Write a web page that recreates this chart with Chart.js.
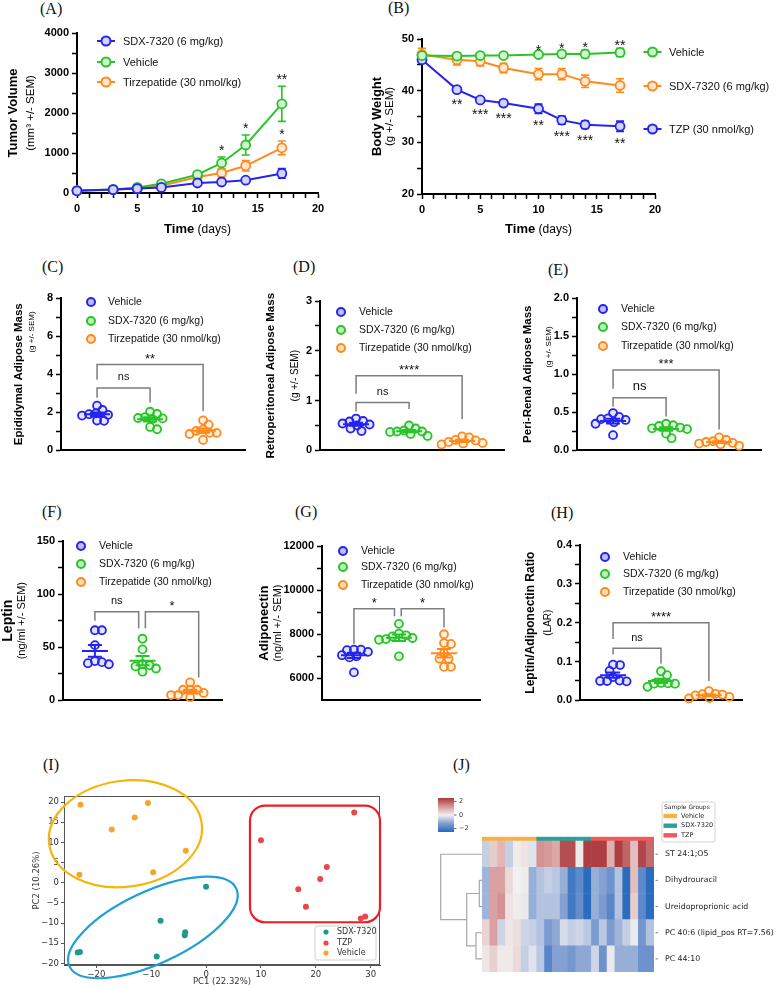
<!DOCTYPE html>
<html>
<head>
<meta charset="utf-8">
<title>SDX-7320 / tirzepatide panels</title>
<script src="https://cdn.jsdelivr.net/npm/chart.js@4.4.1/dist/chart.umd.min.js"></script>
<style>
  html, body { margin: 0; padding: 0; background: #fff; }
  body { position: relative; width: 776px; height: 989px; overflow: hidden; }
  canvas { position: absolute; }
  .tag { position: absolute; font-family: 'Liberation Serif', 'Times New Roman', serif; font-size: 16px; line-height: 16px; color: #111; }
</style>
</head>
<body>
<div class="tag" style="left:40px;top:1px">(A)</div>
<div class="tag" style="left:388px;top:0px">(B)</div>
<div class="tag" style="left:42px;top:259px">(C)</div>
<div class="tag" style="left:293px;top:259px">(D)</div>
<div class="tag" style="left:548px;top:262px">(E)</div>
<div class="tag" style="left:42px;top:504px">(F)</div>
<div class="tag" style="left:295px;top:504px">(G)</div>
<div class="tag" style="left:551px;top:505px">(H)</div>
<div class="tag" style="left:43px;top:757px">(I)</div>
<div class="tag" style="left:453px;top:757px">(J)</div>
<script>
// ---- (A) tumour volume, mm3 ----
const days = [0, 3, 5, 7, 10, 12, 14, 17];
const tumorSdx = [55, 85, 110, 140, 250, 275, 320, 490];
const tumorSdxErr = [10, 15, 20, 25, 35, 40, 50, 120];
const tumorVehicle = [60, 90, 140, 230, 460, 750, 1200, 2230];
const tumorVehicleErr = [10, 15, 25, 40, 60, 150, 250, 440];
const tumorTzp = [60, 80, 110, 180, 400, 500, 680, 1130];
const tumorTzpErr = [10, 15, 20, 30, 50, 100, 130, 170];
const tumorStarsVehicle = ['', '', '', '', '', '*', '*', '**'];
const tumorStarsTzp = ['', '', '', '', '', '', '', '*'];

// ---- (B) body weight, g ----
const weightVehicle = [46.8, 46.7, 46.8, 46.8, 47.0, 47.1, 47.1, 47.4];
const weightVehicleErr = [0.3, 0.6, 0.3, 0.3, 0.3, 0.6, 0.7, 0.8];
const weightSdx = [47.0, 46.0, 45.7, 44.4, 43.2, 43.2, 41.8, 41.0];
const weightSdxErr = [1.2, 1.0, 0.9, 0.9, 1.1, 1.1, 1.2, 1.3];
const weightTzp = [46.0, 40.2, 38.2, 37.6, 36.5, 34.3, 33.4, 33.1];
const weightTzpErr = [0.4, 0.4, 0.4, 0.5, 0.9, 0.8, 0.7, 1.0];
const weightStarsVehicle = ['', '', '', '', '*', '*', '*', '**'];
const weightStarsTzp = ['', '**', '***', '***', '**', '***', '***', '**'];

// ---- (C)-(H) individual animals ----
const groupNames = ['Vehicle', 'SDX-7320 (6 mg/kg)', 'Tirzepatide (30 nmol/kg)'];
const epiVehicle = [2.35, 1.95, 1.87, 2.12, 1.83, 1.55, 1.57, 1.90];
const epiSdx = [1.91, 1.70, 1.68, 2.03, 1.75, 1.11, 1.23, 1.65];
const epiTzp = [1.35, 1.58, 0.86, 0.92, 1.10, 0.92, 0.55, 1.02];
const retroVehicle = [0.54, 0.59, 0.58, 0.64, 0.39, 0.44, 0.50, 0.52];
const retroSdx = [0.33, 0.38, 0.50, 0.37, 0.40, 0.44, 0.29, 0.38];
const retroTzp = [0.26, 0.28, 0.20, 0.21, 0.17, 0.14, 0.15, 0.12];
const periVehicle = [0.42, 0.49, 0.44, 0.41, 0.37, 0.35, 0.20, 0.40];
const periSdx = [0.32, 0.33, 0.29, 0.30, 0.35, 0.16, 0.22, 0.28];
const periTzp = [0.17, 0.12, 0.11, 0.14, 0.09, 0.08, 0.06, 0.10];
const leptinVehicle = [66, 66, 52, 37, 35, 36, 34];
const leptinSdx = [58, 48, 33, 32, 30, 34, 27];
const leptinTzp = [17, 10, 10, 7, 10, 3, 5, 5];
const adipoVehicle = [7300, 7300, 7280, 7200, 7050, 7000, 6950, 6270];
const adipoSdx = [8470, 7950, 7900, 8030, 7750, 7780, 7830, 7000];
const adipoTzp = [8000, 7600, 7560, 7140, 6890, 6890, 6520, 6520];
const larVehicle = [0.092, 0.091, 0.076, 0.060, 0.050, 0.051, 0.050, 0.049];
const larSdx = [0.075, 0.065, 0.045, 0.043, 0.044, 0.043, 0.035];
const larTzp = [0.024, 0.017, 0.015, 0.013, 0.016, 0.006, 0.005, 0.009];

// significance brackets: group a -> group b, heights in data units
const bracketsC = [
  { a: 0, b: 1, top: 3.28, aBase: 2.77, bBase: 2.51, text: 'ns' },
  { a: 0, b: 2, top: 4.51, aBase: 3.71, bBase: 2.05, text: '**' },
];
const bracketsD = [
  { a: 0, b: 1, top: 0.96, aBase: 0.78, bBase: 0.83, text: 'ns' },
  { a: 0, b: 2, top: 1.50, aBase: 1.14, bBase: 0.63, text: '****' },
];
const bracketsE = [
  { a: 0, b: 1, top: 0.692, aBase: 0.573, bBase: 0.444, text: 'ns' },
  { a: 0, b: 2, top: 1.056, aBase: 0.81, bBase: 0.274, text: '***' },
];
const bracketsF = [
  { a: 0, b: 0.92, top: 83.5, aBase: 75, bBase: 68, text: 'ns' },
  { a: 1.06, b: 2.18, top: 83.5, aBase: 68, bBase: 21.5, text: '*' },
];
const bracketsG = [
  { a: 0, b: 0.9, top: 9150, aBase: 7560, bBase: 8810, text: '*' },
  { a: 1.05, b: 2, top: 9150, aBase: 8810, bBase: 8300, text: '*' },
];
const bracketsH = [
  { a: 0, b: 1, top: 0.134, aBase: 0.118, bBase: 0.095, text: 'ns' },
  { a: 0, b: 2, top: 0.20, aBase: 0.158, bBase: 0.05, text: '****' },
];

// ---- (I) PCA scores ----
const pcaSdxX = [0, -8.3, -3.8, -3.9, -9.0, -23.0, -23.4];
const pcaSdxY = [-1.0, -9.4, -12.3, -13.0, -18.3, -17.2, -17.3];
const pcaTzpX = [10.0, 27.0, 22.0, 20.8, 16.8, 18.2, 28.2, 29.0];
const pcaTzpY = [10.5, 17.4, 3.9, 0.9, -1.65, -5.95, -8.9, -8.35];
const pcaVehX = [-22.9, -10.6, -13.0, -17.2, -3.7, -9.65, -23.1];
const pcaVehY = [19.3, 19.75, 16.2, 13.2, 7.9, 2.6, 2.0];

// ---- (J) clustered heatmap, z-scores ----
const sampleIds = ['V1', 'V2', 'V3', 'V4', 'V5', 'V6', 'V7', 'S1', 'S2', 'S3', 'S4', 'S5', 'S6', 'S7',
  'T1', 'T2', 'T3', 'T4', 'T5', 'T6', 'T7', 'T8'];
const sampleGroup = ['Vehicle', 'Vehicle', 'Vehicle', 'Vehicle', 'Vehicle', 'Vehicle', 'Vehicle',
  'SDX-7320', 'SDX-7320', 'SDX-7320', 'SDX-7320', 'SDX-7320', 'SDX-7320', 'SDX-7320',
  'TZP', 'TZP', 'TZP', 'TZP', 'TZP', 'TZP', 'TZP', 'TZP'];
const metabolites = ['ST 24:1;O5', 'Dihydrouracil', 'Ureidoproprionic acid', 'PC 40:6 (lipid_pos RT=7.56)', 'PC 44:10'];
const zST = [-0.5, 0.5, 0.8, -0.5, 0.05, 0.2, -0.2, 1.3, 1.2, 1.0, 2.2, 2.2, 0.1, 2.4, 2.4, 2.4, 0.9, 2.4, 1.9, 0.7, 2.3, 1.8];
const zDihydro = [-0.9, 1.1, 1.1, 0.3, 0.0, 0.05, -1.0, -0.7, -0.5, -0.6, -1.0, -2.1, -1.7, -2.4, -1.0, -1.2, -1.5, -0.7, -2.4, 0.7, -1.7, -2.4];
const zUreido = [-0.9, 1.1, 1.3, 0.2, 0.05, -0.1, -1.0, -0.7, -0.7, -0.7, -1.2, -2.1, -1.6, -2.4, -1.0, -1.3, -1.8, -0.7, -2.4, 0.5, -1.7, -2.4];
const zPC406 = [0.4, 1.1, -0.4, 0.15, 0.25, -0.4, -0.5, -0.7, -1.3, -1.1, -0.3, -0.5, -0.4, -0.6, -1.3, -0.6, -1.3, -0.9, -0.5, -0.1, -1.4, -0.7];
const zPC4410 = [0.15, 0.45, 0.1, 0.1, 0.3, -0.5, -0.2, -0.6, -1.8, -1.2, -1.2, -1.4, -1.1, -1.1, -0.4, -1.5, -0.1, -1.0, -1.0, -1.0, -1.5, -1.5];
// row dendrogram links [a, b, height]; ids 5.. are merged clusters
const dendroLinks = [[1, 2, 0.065], [3, 4, 0.145], [5, 6, 0.37], [0, 7, 1.0]];

// ---------- style ----------
const ARIAL = "'Liberation Sans', Arial, Helvetica, sans-serif";
const DJ = "'DejaVu Sans', Verdana, sans-serif";
const BLUE = '#2424ee', GREEN = '#28c428', ORANGE = '#ff8a1c';
const groupColors = [BLUE, GREEN, ORANGE];
const TEAL = '#1f9a86', RED = '#e8474b', GOLD = '#f5a62a';
const groupBand = { 'Vehicle': '#f7b244', 'SDX-7320': '#2aa198', 'TZP': '#ef5b5b' };
const zLimit = 2.5;
const bandH = 0.17;

Chart.defaults.font.family = ARIAL;
Chart.defaults.color = '#000';

function rgb(hex) { const n = parseInt(hex.slice(1), 16); return [n >> 16, (n >> 8) & 255, n & 255]; }
function tint(hex, a) { return `rgba(${rgb(hex).join(',')},${a})`; }
function mixWhite(hex, w) { return `rgb(${rgb(hex).map(v => Math.round(v + (255 - v) * w)).join(',')})`; }
const onStep = (v, step) => Math.abs(v / step - Math.round(v / step)) < 1e-6;
// scale boxes get a fixed size so the plot area lands where the figure has it
const fixedFit = size => s => { if (s.isHorizontal()) s.height = size; else s.width = size; };
const frame = (T, R) => ({ autoPadding: false, padding: { left: 0, top: T, right: R, bottom: 0 } });

const vlagStops = [[-1, [36, 104, 189]], [-0.5, [128, 157, 209]], [0, [242, 240, 240]], [0.5, [214, 150, 150]], [1, [169, 55, 59]]];
function vlag(z) {
  const t = Math.max(-1, Math.min(1, z / zLimit));
  for (let i = 1; i < vlagStops.length; i++) {
    const [t0, c0] = vlagStops[i - 1], [t1, c1] = vlagStops[i];
    if (t <= t1) {
      const f = (t - t0) / (t1 - t0);
      return `rgb(${c0.map((c, k) => Math.round(c + (c1[k] - c) * f)).join(',')})`;
    }
  }
  return 'rgb(169,55,59)';
}

function makeChart(box, config) {
  const [left, top, w, h] = box;
  const c = document.createElement('canvas');
  c.width = w; c.height = h;
  c.style.cssText = `left:${left}px;top:${top}px;width:${w}px;height:${h}px`;
  document.body.appendChild(c);
  config.options = Object.assign({ responsive: false, animation: false, devicePixelRatio: 1, events: [] }, config.options);
  config.options.plugins = Object.assign({ legend: { display: false }, tooltip: { enabled: false } }, config.options.plugins);
  return new Chart(c, config);
}

// GraphPad-like axis: thick black line, outward ticks, labels on major steps only
function gpAxis(pos, min, max, minor, major, decimals, size, from) {
  return {
    type: 'linear', position: pos, min, max,
    afterFit: fixedFit(size),
    afterBuildTicks: s => { s.ticks = s.ticks.filter(t => onStep(t.value, minor) && (from === undefined || t.value >= from)); },
    border: { display: true, color: '#000', width: 2 },
    grid: { drawOnChartArea: false, drawTicks: true, tickLength: 5, tickWidth: 1.5, tickColor: '#000' },
    ticks: {
      stepSize: minor, autoSkip: false, includeBounds: false, maxRotation: 0, padding: pos === 'bottom' ? 4 : 3, color: '#000',
      font: { size: 11, weight: 'bold' },
      callback: v => (onStep(v, major) ? Number(v).toFixed(decimals) : ''),
    },
  };
}
function flatX(min, max, size) {
  return { type: 'linear', position: 'bottom', min, max, afterFit: fixedFit(size),
    border: { display: true, color: '#000', width: 2 }, grid: { display: false }, ticks: { display: false } };
}
function mplAxis(pos, min, max, step, size) {
  return {
    type: 'linear', position: pos, min, max, afterFit: fixedFit(size),
    afterBuildTicks: s => { s.ticks = s.ticks.filter(t => onStep(t.value, step)); },
    border: { display: true, color: '#555', width: 1 },
    grid: { drawOnChartArea: false, drawTicks: true, tickLength: 3, tickWidth: 1, tickColor: '#555' },
    ticks: { stepSize: step, autoSkip: false, includeBounds: false, maxRotation: 0, padding: 2, color: '#333', font: { family: DJ, size: 8.5 },
      callback: v => (v < 0 ? '\u2212' + Math.abs(v) : String(v)) },
  };
}

// ---------- plugins ----------
const errorBars = {
  id: 'errorBars',
  beforeDatasetsDraw(chart) {
    const { ctx } = chart, ys = chart.scales.y;
    chart.data.datasets.forEach((ds, di) => {
      const meta = chart.getDatasetMeta(di);
      ctx.save();
      ctx.strokeStyle = ds.borderColor; ctx.lineWidth = 1.6;
      ctx.beginPath();
      meta.data.forEach((pt, i) => {
        const v = ds.data[i].y, e = ds.errors[i];
        const t = ys.getPixelForValue(v + e), b = ys.getPixelForValue(v - e);
        ctx.moveTo(pt.x, t); ctx.lineTo(pt.x, b);
        ctx.moveTo(pt.x - 4, t); ctx.lineTo(pt.x + 4, t);
        ctx.moveTo(pt.x - 4, b); ctx.lineTo(pt.x + 4, b);
      });
      ctx.stroke();
      ctx.restore();
    });
  },
};

const starMarks = {
  id: 'starMarks',
  afterDatasetsDraw(chart, args, o) {
    const { ctx } = chart, ys = chart.scales.y;
    ctx.save();
    ctx.font = `14px ${ARIAL}`; ctx.fillStyle = '#111'; ctx.textAlign = 'center'; ctx.textBaseline = 'alphabetic';
    chart.data.datasets.forEach((ds, di) => {
      if (!ds.stars) return;
      const meta = chart.getDatasetMeta(di);
      ds.stars.forEach((s, i) => {
        if (!s) return;
        const v = ds.data[i].y, e = ds.errors[i];
        const py = ds.starSide === 'below' ? ys.getPixelForValue(v - e) + o.below : ys.getPixelForValue(v + e) - o.above;
        ctx.fillText(s, meta.data[i].x, py);
      });
    });
    ctx.restore();
  },
};

const keyBox = {
  id: 'keyBox',
  afterDraw(chart, args, o) {
    const ctx = chart.ctx;
    ctx.save();
    ctx.font = `${o.size}px ${ARIAL}`;
    ctx.textBaseline = 'middle'; ctx.textAlign = 'left';
    chart.data.datasets.forEach((ds, i) => {
      const y = o.ys[i];
      ctx.strokeStyle = ds.borderColor; ctx.lineWidth = 2;
      if (o.line) { ctx.beginPath(); ctx.moveTo(o.x - 9, y); ctx.lineTo(o.x + 9, y); ctx.stroke(); }
      ctx.beginPath(); ctx.arc(o.x, y, o.r || 4, 0, Math.PI * 2);
      ctx.fillStyle = o.line ? ds.pointBackgroundColor : tint(ds.borderColor, 0.3);
      ctx.fill(); ctx.stroke();
      ctx.fillStyle = '#111';
      ctx.fillText(ds.label, o.tx, y + 0.5);
    });
    ctx.restore();
  },
};

const axisText = {
  id: 'axisText',
  afterDraw(chart, args, o) {
    const ctx = chart.ctx, a = chart.chartArea;
    ctx.save();
    ctx.fillStyle = '#000';
    (o.y || []).forEach(t => {
      ctx.save();
      ctx.translate(t.x, t.cy !== undefined ? t.cy : (a.top + a.bottom) / 2);
      ctx.rotate(-Math.PI / 2);
      ctx.font = `${t.bold ? 'bold ' : ''}${t.size}px ${ARIAL}`;
      ctx.textAlign = 'center'; ctx.textBaseline = 'middle';
      ctx.fillText(t.text, 0, 0);
      ctx.restore();
    });
    if (o.x) {
      const parts = o.x.parts.map(p => {
        ctx.font = `${p.bold ? 'bold ' : ''}${p.size}px ${ARIAL}`;
        return Object.assign({ w: ctx.measureText(p.text).width }, p);
      });
      let x0 = (a.left + a.right) / 2 - parts.reduce((s, p) => s + p.w, 0) / 2;
      ctx.textAlign = 'left'; ctx.textBaseline = 'alphabetic';
      parts.forEach(p => {
        ctx.font = `${p.bold ? 'bold ' : ''}${p.size}px ${ARIAL}`;
        ctx.fillText(p.text, x0, o.x.y);
        x0 += p.w;
      });
    }
    ctx.restore();
  },
};

// dot plot: swarm tied points sideways, mean +/- SEM, significance brackets
const dotPlot = {
  id: 'dotPlot',
  afterDatasetsUpdate(chart) {
    const dmin = 7;
    chart.data.datasets.forEach((ds, di) => {
      const pts = chart.getDatasetMeta(di).data.slice().sort((p, q) => p.y - q.y);
      const placed = [];
      pts.forEach(p => {
        const cx = p.x;
        let off = 0;
        for (let k = 0; k < 120; k++) {
          off = (k % 2 ? 1 : -1) * Math.ceil(k / 2) * 0.5;
          if (placed.every(q => (q.x - cx - off) ** 2 + (q.y - p.y) ** 2 >= dmin * dmin)) break;
        }
        p.x = cx + off;
        placed.push(p);
      });
    });
  },
  afterDatasetsDraw(chart) {
    const { ctx } = chart, xs = chart.scales.x, ys = chart.scales.y;
    chart.data.datasets.forEach(ds => {
      const vals = ds.data.map(p => p.y), n = vals.length;
      const m = vals.reduce((s, v) => s + v, 0) / n;
      const sem = Math.sqrt(vals.reduce((s, v) => s + (v - m) ** 2, 0) / (n - 1)) / Math.sqrt(n);
      const cx = xs.getPixelForValue(ds.data[0].x);
      const ym = ys.getPixelForValue(m), yt = ys.getPixelForValue(m + sem), yb = ys.getPixelForValue(m - sem);
      ctx.save();
      ctx.strokeStyle = ds.borderColor; ctx.lineWidth = 2;
      ctx.beginPath();
      ctx.moveTo(cx - 13, ym); ctx.lineTo(cx + 13, ym);
      ctx.moveTo(cx, yt); ctx.lineTo(cx, yb);
      ctx.moveTo(cx - 7, yt); ctx.lineTo(cx + 7, yt);
      ctx.moveTo(cx - 7, yb); ctx.lineTo(cx + 7, yb);
      ctx.stroke();
      ctx.restore();
    });
  },
  afterDraw(chart, args, o) {
    const { ctx } = chart, xs = chart.scales.x, ys = chart.scales.y;
    ctx.save();
    ctx.strokeStyle = '#7d7d7d'; ctx.lineWidth = 1.5; ctx.fillStyle = '#111';
    ctx.textAlign = 'center'; ctx.textBaseline = 'alphabetic';
    (o.brackets || []).forEach(b => {
      const xa = xs.getPixelForValue(b.a), xb = xs.getPixelForValue(b.b), yt = ys.getPixelForValue(b.top);
      ctx.beginPath();
      ctx.moveTo(xa, ys.getPixelForValue(b.aBase)); ctx.lineTo(xa, yt);
      ctx.lineTo(xb, yt); ctx.lineTo(xb, ys.getPixelForValue(b.bBase));
      ctx.stroke();
      const star = b.text.includes('*');
      ctx.font = `${star ? 13 : o.nsSize}px ${ARIAL}`;
      ctx.fillText(b.text, (xa + xb) / 2, yt - (star ? 1.5 : 7.5));
    });
    ctx.restore();
  },
};

const pcaDecor = {
  id: 'pcaDecor',
  afterDatasetsDraw(chart, args, o) {
    const { ctx, chartArea: a } = chart, xs = chart.scales.x, ys = chart.scales.y;
    ctx.save();
    ctx.strokeStyle = '#555'; ctx.lineWidth = 1;
    ctx.strokeRect(a.left + 0.5, a.top + 0.5, a.right - a.left - 1, a.bottom - a.top - 1);
    ctx.lineWidth = 2.2;
    o.ellipses.forEach(e => {
      ctx.strokeStyle = e.color;
      ctx.beginPath();
      ctx.ellipse(xs.getPixelForValue(e.cx), ys.getPixelForValue(e.cy), e.rx, e.ry, e.rot * Math.PI / 180, 0, Math.PI * 2);
      ctx.stroke();
    });
    o.boxes.forEach(b => {
      const x0 = xs.getPixelForValue(b.x0), x1 = xs.getPixelForValue(b.x1);
      const y0 = ys.getPixelForValue(b.y0), y1 = ys.getPixelForValue(b.y1);
      ctx.strokeStyle = b.color;
      ctx.beginPath(); ctx.roundRect(x0, y0, x1 - x0, y1 - y0, b.r); ctx.stroke();
    });
    // legend
    const L = o.legend;
    ctx.fillStyle = 'rgba(255,255,255,0.9)'; ctx.strokeStyle = '#d0d0d0'; ctx.lineWidth = 1;
    ctx.beginPath(); ctx.roundRect(L.x, L.y, L.w, L.h, 2); ctx.fill(); ctx.stroke();
    ctx.font = `8px ${DJ}`; ctx.textBaseline = 'middle'; ctx.textAlign = 'left';
    chart.data.datasets.forEach((ds, i) => {
      const y = L.ys[i];
      ctx.fillStyle = ds.backgroundColor;
      ctx.beginPath(); ctx.arc(L.mx, y, 2.6, 0, Math.PI * 2); ctx.fill();
      ctx.fillStyle = '#333'; ctx.fillText(ds.label, L.tx, y);
    });
    // axis titles
    ctx.fillStyle = '#333'; ctx.font = `8.5px ${DJ}`; ctx.textAlign = 'center';
    ctx.fillText(o.xTitle, (a.left + a.right) / 2, o.xTitleY);
    ctx.save(); ctx.translate(o.yTitleX, (a.top + a.bottom) / 2); ctx.rotate(-Math.PI / 2);
    ctx.fillText(o.yTitle, 0, 0); ctx.restore();
    ctx.restore();
  },
};

const heatDecor = {
  id: 'heatDecor',
  afterDraw(chart, args, o) {
    const { ctx, chartArea: a } = chart, ys = chart.scales.y;
    const nRows = metabolites.length;
    const rowY = r => ys.getPixelForValue(nRows - r - 0.5);
    ctx.save();
    // dendrogram
    const pos = metabolites.map((m, r) => ({ x: a.left, y: rowY(r) }));
    ctx.strokeStyle = '#a8a8a8'; ctx.lineWidth = 1.2;
    dendroLinks.forEach(([p, q, h]) => {
      const xh = a.left - h * o.dendroScale, A = pos[p], B = pos[q];
      ctx.beginPath();
      ctx.moveTo(A.x, A.y); ctx.lineTo(xh, A.y); ctx.lineTo(xh, B.y); ctx.lineTo(B.x, B.y);
      ctx.stroke();
      pos.push({ x: xh, y: (A.y + B.y) / 2 });
    });
    // row labels
    ctx.font = `7.8px ${DJ}`; ctx.fillStyle = '#222'; ctx.textBaseline = 'middle'; ctx.textAlign = 'left';
    ctx.strokeStyle = '#666'; ctx.lineWidth = 0.8;
    metabolites.forEach((m, r) => {
      const y = rowY(r);
      ctx.beginPath(); ctx.moveTo(a.right + 1.5, y); ctx.lineTo(a.right + 4, y); ctx.stroke();
      ctx.fillText(m, a.right + 11, y);
    });
    // colour bar
    const cb = o.colorbar;
    const g = ctx.createLinearGradient(0, cb.y, 0, cb.y + cb.h);
    for (let k = 0; k <= 20; k++) g.addColorStop(k / 20, vlag(zLimit - 2 * zLimit * k / 20));
    ctx.fillStyle = g; ctx.fillRect(cb.x, cb.y, cb.w, cb.h);
    ctx.font = `6.5px ${DJ}`; ctx.fillStyle = '#333'; ctx.strokeStyle = '#444';
    [2, 0, -2].forEach(v => {
      const y = cb.y + cb.h / 2 - v / zLimit * cb.h / 2;
      ctx.beginPath(); ctx.moveTo(cb.x + cb.w, y); ctx.lineTo(cb.x + cb.w + 2.5, y); ctx.stroke();
      ctx.fillText(v < 0 ? '\u2212' + Math.abs(v) : String(v), cb.x + cb.w + 5, y);
    });
    // group legend
    const L = o.legend;
    ctx.fillStyle = '#fff'; ctx.strokeStyle = '#d4d4d4'; ctx.lineWidth = 1;
    ctx.beginPath(); ctx.roundRect(L.x, L.y, L.w, L.h, 2); ctx.fill(); ctx.stroke();
    ctx.fillStyle = '#222'; ctx.font = `6px ${DJ}`;
    ctx.fillText('Sample Groups', L.x + 2, L.y + 5);
    ctx.font = `6.5px ${DJ}`;
    Object.keys(groupBand).forEach((k, i) => {
      const y = L.ys[i];
      ctx.fillStyle = groupBand[k]; ctx.fillRect(L.x + 1.5, y - 2.2, 13.5, 4.4);
      ctx.fillStyle = '#222'; ctx.fillText(k, L.x + 19, y);
    });
    ctx.restore();
  },
};

// ---------- dataset builders ----------
function lineSet(label, ys, errs, color, stars, side) {
  return {
    label, data: days.map((d, i) => ({ x: d, y: ys[i] })), errors: errs, stars, starSide: side,
    borderColor: color, backgroundColor: mixWhite(color, 0.8), borderWidth: 2, tension: 0,
    pointRadius: 4.5, pointBorderWidth: 1.8, pointBorderColor: color, pointBackgroundColor: mixWhite(color, 0.8), clip: false,
  };
}
function dotSet(label, vals, idx, color) {
  return {
    label, data: vals.map(v => ({ x: idx, y: v })), borderColor: color, backgroundColor: tint(color, 0.12),
    pointRadius: 4, pointBorderWidth: 1.8, pointBorderColor: color, pointBackgroundColor: tint(color, 0.12), clip: false,
  };
}
// box: canvas [left, top, w, h]; area: [L, T, R, B] margins around the axis frame
function dotChart(box, area, xr, yr, sets, o) {
  const [L, T, R, B] = area;
  return makeChart(box, {
    type: 'scatter',
    data: { datasets: sets.map((vals, i) => dotSet(groupNames[i], vals, i, groupColors[i])) },
    options: {
      layout: frame(T, R),
      scales: { x: flatX(xr[0], xr[1], B), y: gpAxis('left', ...yr, L, o.from) },
      plugins: { dotPlot: { brackets: o.brackets, nsSize: o.nsSize || 11 }, keyBox: o.key, axisText: { y: o.titles } },
    },
    plugins: [dotPlot, keyBox, axisText],
  });
}
const timeTitle = { y: 233, parts: [{ text: 'Time', size: 13, bold: true }, { text: ' (days)', size: 12 }] };

// ---------- (A) ----------
makeChart([0, 0, 360, 240], {
  type: 'line',
  data: { datasets: [
    lineSet('SDX-7320 (6 mg/kg)', tumorSdx, tumorSdxErr, BLUE, null, 'above'),
    lineSet('Vehicle', tumorVehicle, tumorVehicleErr, GREEN, tumorStarsVehicle, 'above'),
    lineSet('Tirzepatide (30 nmol/kg)', tumorTzp, tumorTzpErr, ORANGE, tumorStarsTzp, 'above'),
  ] },
  options: {
    layout: frame(33, 42),
    scales: { x: gpAxis('bottom', 0, 20, 1, 5, 0, 47), y: gpAxis('left', 0, 4000, 500, 1000, 0, 77) },
    plugins: {
      keyBox: { line: true, x: 106, tx: 123, ys: [41, 62, 82], size: 11, r: 4.5 },
      starMarks: { above: 2, below: 17 },
      axisText: {
        y: [{ text: 'Tumor Volume', x: 13, size: 13, bold: true }, { text: '(mm\u00b3 +/- SEM)', x: 31, size: 11.5 }],
        x: timeTitle,
      },
    },
  },
  plugins: [errorBars, starMarks, keyBox, axisText],
});

// ---------- (B) ----------
makeChart([360, 0, 416, 240], {
  type: 'line',
  data: { datasets: [
    lineSet('Vehicle', weightVehicle, weightVehicleErr, GREEN, weightStarsVehicle, 'above'),
    lineSet('SDX-7320 (6 mg/kg)', weightSdx, weightSdxErr, ORANGE, null, 'above'),
    lineSet('TZP (30 nmol/kg)', weightTzp, weightTzpErr, BLUE, weightStarsTzp, 'below'),
  ] },
  options: {
    layout: frame(39, 121),
    scales: { x: gpAxis('bottom', 0, 20, 1, 5, 0, 46), y: gpAxis('left', 20, 50, 5, 10, 0, 62) },
    plugins: {
      keyBox: { line: true, x: 292.5, tx: 309, ys: [52, 86, 129], size: 11, r: 4.5 },
      starMarks: { above: -1.7, below: 17 },
      axisText: {
        y: [{ text: 'Body Weight', x: 17, size: 13, bold: true }, { text: '(g +/- SEM)', x: 30, size: 11.5 }],
        x: timeTitle,
      },
    },
  },
  plugins: [errorBars, starMarks, keyBox, axisText],
});

// ---------- (C) (D) (E) ----------
dotChart([0, 255, 258, 205], [61, 43, 13, 6], [-0.68, 2.79], [0, 8, 1, 2, 0], [epiVehicle, epiSdx, epiTzp], {
  brackets: bracketsC, key: { x: 91, tx: 108, ys: [47, 66, 84], size: 10.5 },
  titles: [{ text: 'Epididymal Adipose Mass', x: 19, size: 11.5, bold: true }, { text: '(g +/- SEM)', x: 32, cy: 77, size: 8 }],
});
dotChart([258, 255, 258, 205], [62, 46, 12, 6], [-0.68, 2.79], [0, 3, 0.5, 1, 0], [retroVehicle, retroSdx, retroTzp], {
  brackets: bracketsD, key: { x: 83, tx: 101, ys: [57, 75, 93], size: 10.5 },
  titles: [{ text: 'Retroperitoneal Adipose Mass', x: 13, size: 11.5, bold: true }, { text: '(g +/- SEM)', x: 37, size: 10 }],
});
dotChart([516, 255, 260, 205], [61, 43, 15, 6], [-0.68, 2.79], [0, 2, 0.25, 0.5, 1], [periVehicle, periSdx, periTzp], {
  brackets: bracketsE, nsSize: 13, key: { x: 87, tx: 105, ys: [54, 72, 91], size: 10.5 },
  titles: [{ text: 'Peri-Renal Adipose Mass', x: 12, size: 11.5, bold: true }, { text: '(g +/- SEM)', x: 33, cy: 92, size: 8 }],
});

// ---------- (F) (G) (H) ----------
dotChart([0, 500, 258, 210], [63, 41, 36, 9], [-0.67, 2.67], [0, 150, 25, 50, 0], [leptinVehicle, leptinSdx, leptinTzp], {
  brackets: bracketsF, key: { x: 81, tx: 99, ys: [46, 64, 82], size: 10.5 },
  titles: [{ text: 'Leptin', x: 8, size: 14, bold: true }, { text: '(ng/ml +/- SEM)', x: 22, size: 11 }],
});
dotChart([250, 500, 266, 210], [72, 46, 36, 8], [-0.71, 2.8], [5000, 12000, 1000, 2000, 0], [adipoVehicle, adipoSdx, adipoTzp], {
  brackets: bracketsG, from: 6000, key: { x: 93, tx: 111, ys: [51, 67, 85], size: 10.5 },
  titles: [{ text: 'Adiponectin', x: 14, size: 13, bold: true }, { text: '(ng/ml +/- SEM)', x: 28, size: 11 }],
});
dotChart([516, 500, 260, 210], [64, 45, 34, 9], [-0.69, 2.69], [0, 0.4, 0.05, 0.1, 1], [larVehicle, larSdx, larTzp], {
  brackets: bracketsH, key: { x: 89, tx: 107, ys: [57, 74, 92], size: 10.5 },
  titles: [{ text: 'Leptin/Adiponectin Ratio', x: 15, size: 12, bold: true }, { text: '(LAR)', x: 32, size: 10 }],
});

// ---------- (I) PCA ----------
function pcaSet(label, xs, ys, color) {
  return { label, data: xs.map((x, i) => ({ x, y: ys[i] })), backgroundColor: color, borderWidth: 0, pointRadius: 3, clip: false };
}
makeChart([0, 760, 390, 229], {
  type: 'scatter',
  data: { datasets: [
    pcaSet('SDX-7320', pcaSdxX, pcaSdxY, TEAL),
    pcaSet('TZP', pcaTzpX, pcaTzpY, RED),
    pcaSet('Vehicle', pcaVehX, pcaVehY, GOLD),
  ] },
  options: {
    layout: frame(36, 10),
    scales: { x: mplAxis('bottom', -25.9, 31.7, 10, 24), y: mplAxis('left', -20.4, 21.5, 5, 64) },
    plugins: {
      pcaDecor: {
        ellipses: [
          { cx: -14.7, cy: 12.15, rx: 77, ry: 53, rot: -8, color: '#f5b50a' },
          { cx: -9.7, cy: -11.1, rx: 92, ry: 36, rot: -25, color: '#1ea0d5' },
        ],
        boxes: [{ x0: 8.0, x1: 31.7, y0: 19.1, y1: -9.8, r: 15, color: '#ee1c24' }],
        legend: { x: 315, y: 166, w: 61, h: 34, mx: 326, tx: 337, ys: [172, 183, 193] },
        xTitle: 'PC1 (22.32%)', xTitleY: 222, yTitle: 'PC2 (10.26%)', yTitleX: 37,
      },
    },
  },
  plugins: [pcaDecor],
});

// ---------- (J) heatmap ----------
const heatRows = [zST, zDihydro, zUreido, zPC406, zPC4410];
const heatSets = heatRows.slice().reverse().map((row, k) => ({
  label: metabolites[metabolites.length - 1 - k], data: row.map(() => 1), backgroundColor: row.map(vlag),
}));
heatSets.push({ label: 'group', data: sampleGroup.map(() => bandH), backgroundColor: sampleGroup.map(gp => groupBand[gp]) });
makeChart([390, 780, 386, 209], {
  type: 'bar',
  data: { labels: sampleIds, datasets: heatSets },
  options: {
    layout: { autoPadding: false, padding: { left: 92, top: 56.7, right: 122, bottom: 17 } },
    scales: {
      x: { stacked: true, display: false },
      y: { stacked: true, display: false, min: 0, max: metabolites.length + bandH },
    },
    datasets: { bar: { barPercentage: 1, categoryPercentage: 1, borderWidth: 0 } },
    plugins: {
      heatDecor: {
        dendroScale: 41.3,
        colorbar: { x: 48, y: 18, w: 16, h: 34 },
        legend: { x: 272, y: 22, w: 53, h: 40, ys: [36, 45.7, 55.3] },
      },
    },
  },
  plugins: [heatDecor],
});
</script>
</body>
</html>
